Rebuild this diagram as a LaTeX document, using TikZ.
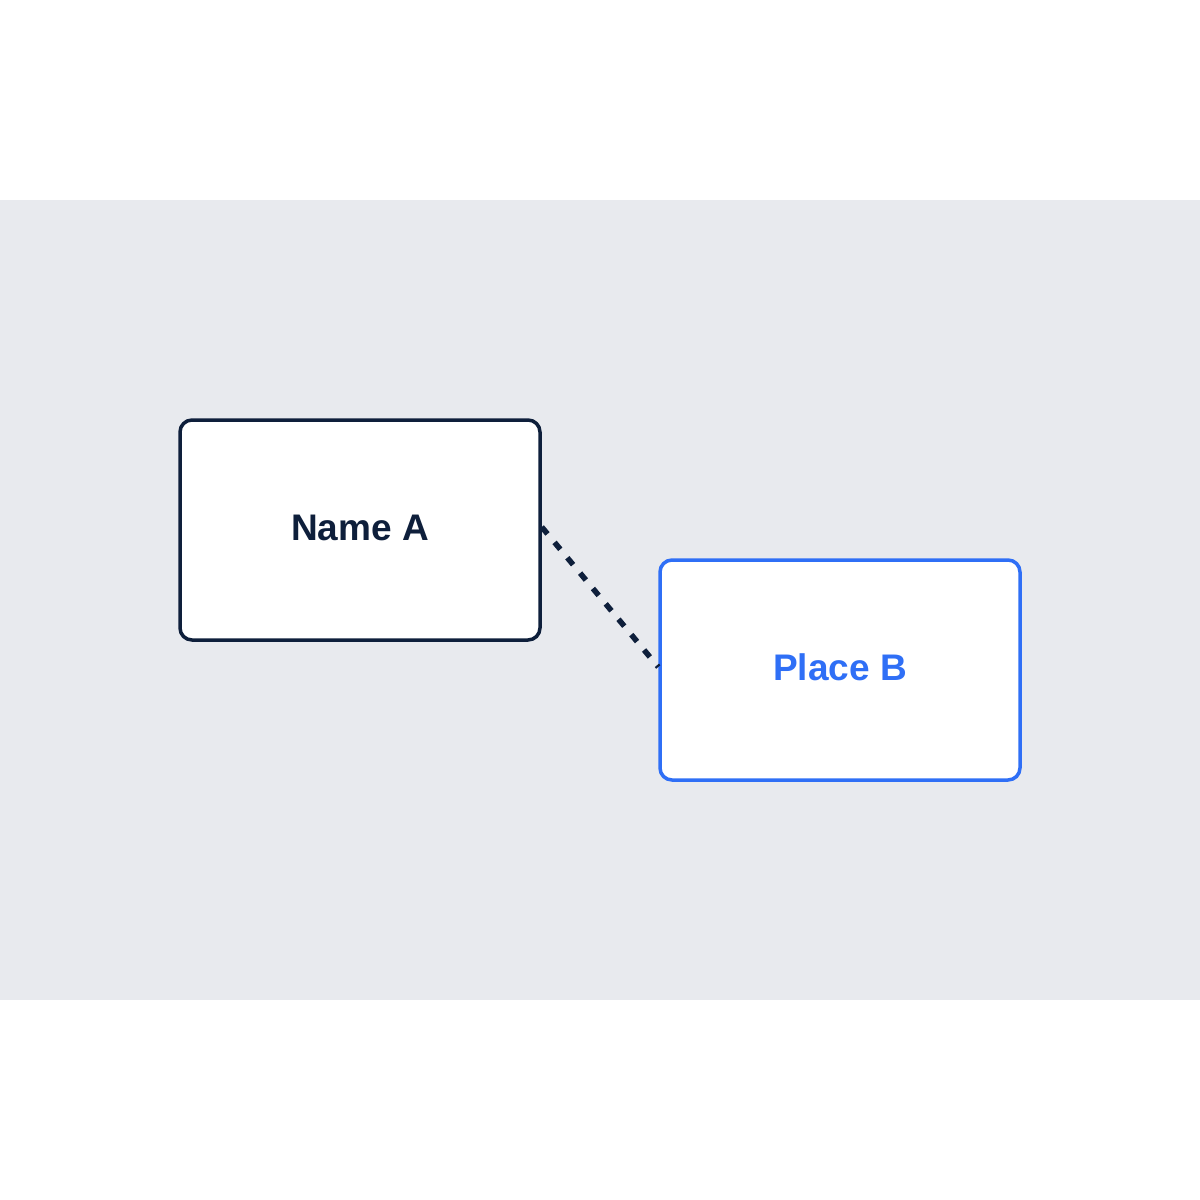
\documentclass[tikz,border=0pt]{standalone}
\usepackage{fontspec}
\setmainfont{Liberation Sans}
\definecolor{navy}{HTML}{0E1F3B}
\definecolor{blueb}{HTML}{2F6FF6}
\definecolor{bandgray}{HTML}{E8EAEE}
\begin{document}
\begin{tikzpicture}[x=1pt,y=-1pt,
  card/.style={draw, line width=3.5pt, rounded corners=12pt, fill=white, minimum width=360pt, minimum height=220pt, inner sep=0pt, text height=27pt, text depth=6pt, font=\fontsize{37}{44}\selectfont\bfseries},
  link/.style={draw=navy, line width=5.5pt, dash pattern=on 9pt off 11pt}]
\useasboundingbox (0,0) rectangle (1200,1200);
\fill[white] (0,0) rectangle (1200,1200);
\fill[bandgray] (0,200) rectangle (1200,1000);
\node[card, draw=navy, text=navy] (a) at (360,530) {Name A};
\node[card, draw=blueb, text=blueb] (b) at (840,670) {Place B};
\draw[link] ([yshift=3pt]a.east) -- ([yshift=3pt]b.west);
\end{tikzpicture}
\end{document}
